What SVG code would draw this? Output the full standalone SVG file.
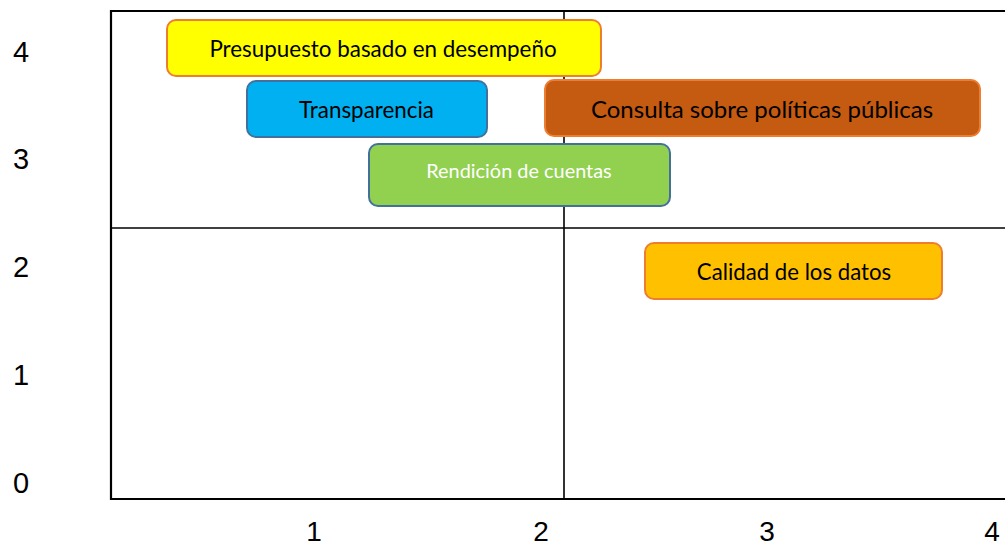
<svg xmlns="http://www.w3.org/2000/svg" width="1005" height="548" viewBox="0 0 1005 548">
<style>
.axis{font-family:"Liberation Sans",Arial,sans-serif;font-size:29px;fill:#000;text-anchor:middle}
.xaxis{font-size:28px}
.lbl{font-family:Lato,"Open Sans",sans-serif;text-anchor:middle}
.box{stroke-width:2}
</style>
<rect width="1005" height="548" fill="#fff"/>
<g id="frame" stroke="#000" fill="none">
<polyline points="1005,11 111,11 111,499 1005,499" stroke-width="2.2"/>
<line x1="564" y1="11" x2="564" y2="499" stroke-width="1.6"/>
<line x1="111" y1="228" x2="1005" y2="228" stroke-width="1.6"/>
</g>
<g id="axis-labels">
<text class="axis" x="21" y="62">4</text>
<text class="axis" x="21" y="169">3</text>
<text class="axis" x="21" y="277">2</text>
<text class="axis" x="21" y="385">1</text>
<text class="axis" x="21" y="493">0</text>
<text class="axis xaxis" x="314" y="541">1</text>
<text class="axis xaxis" x="541" y="541">2</text>
<text class="axis xaxis" x="767" y="541">3</text>
<text class="axis xaxis" x="992" y="541">4</text>
</g>
<g id="connectors"></g>
<g id="node-presupuesto">
<rect class="box" x="167" y="20" width="434" height="56" rx="9" fill="#FFFF00" stroke="#ED7D31"/>
<text class="lbl" x="383" y="57" font-size="22.4">Presupuesto basado en desempeño</text>
</g>
<g id="node-transparencia">
<rect class="box" x="247" y="81" width="240" height="56" rx="9" fill="#00B0F0" stroke="#41719C"/>
<text class="lbl" x="366.5" y="118" font-size="22.4">Transparencia</text>
</g>
<g id="node-consulta">
<rect class="box" x="545" y="80" width="435" height="56" rx="9" fill="#C55A11" stroke="#ED7D31"/>
<text class="lbl" x="762" y="118" font-size="24">Consulta sobre políticas públicas</text>
</g>
<g id="node-rendicion">
<rect class="box" x="369" y="144" width="301" height="62" rx="9" fill="#92D050" stroke="#41719C"/>
<text class="lbl" x="519" y="178" font-size="19.9" fill="#fff">Rendición de cuentas</text>
</g>
<g id="node-calidad">
<rect class="box" x="645" y="243" width="297" height="56" rx="9" fill="#FFC000" stroke="#ED7D31"/>
<text class="lbl" x="794" y="280" font-size="22.2">Calidad de los datos</text>
</g>
</svg>
